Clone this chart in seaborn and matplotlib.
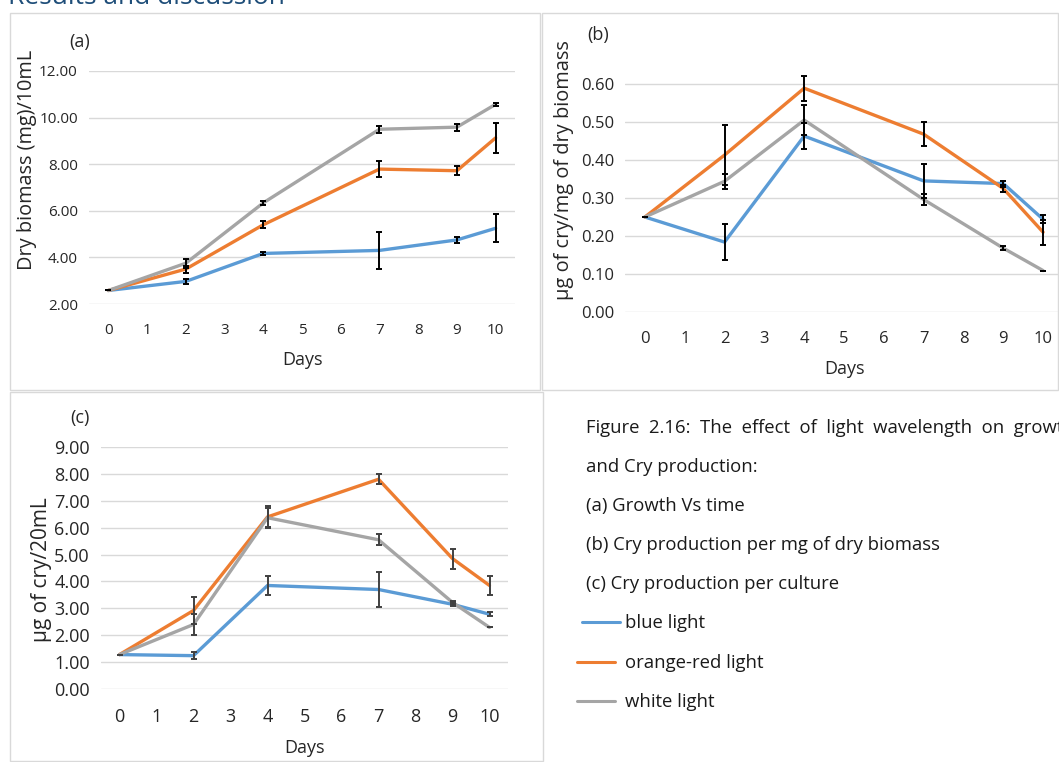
import matplotlib
matplotlib.use("Agg")
import matplotlib.pyplot as plt
import matplotlib.patches as patches
import seaborn as sns
import pandas as pd

sns.set_style("white")
plt.rcParams['font.family'] = ['Open Sans', 'DejaVu Sans']

# data
days = [0, 2, 4, 7, 9, 10]
series_names = ["blue light", "orange-red light", "white light"]
colors = ["#5B9BD5", "#ED7D31", "#A5A5A5"]

# (a) dry biomass (mg)/10mL
biomass_blue = [2.58, 2.97, 4.17, 4.30, 4.75, 5.25]
biomass_orange = [2.58, 3.50, 5.40, 7.79, 7.72, 9.13]
biomass_white = [2.58, 3.75, 6.34, 9.50, 9.59, 10.57]
biomass_err_blue = [0.0, 0.10, 0.08, 0.78, 0.12, 0.60]
biomass_err_orange = [0.0, 0.15, 0.15, 0.34, 0.20, 0.63]
biomass_err_white = [0.0, 0.20, 0.10, 0.15, 0.15, 0.06]

# (b) ug cry / mg dry biomass
cry_mg_blue = [0.25, 0.184, 0.463, 0.345, 0.338, 0.244]
cry_mg_orange = [0.25, 0.413, 0.589, 0.468, 0.325, 0.210]
cry_mg_white = [0.25, 0.344, 0.505, 0.296, 0.168, 0.109]
cry_mg_err_blue = [0.0, 0.048, 0.035, 0.045, 0.008, 0.010]
cry_mg_err_orange = [0.0, 0.080, 0.033, 0.032, 0.010, 0.033]
cry_mg_err_white = [0.0, 0.020, 0.040, 0.015, 0.005, 0.0]

# (c) ug cry / 20mL
cry_ml_blue = [1.28, 1.24, 3.85, 3.70, 3.15, 2.78]
cry_ml_orange = [1.28, 2.92, 6.40, 7.80, 4.85, 3.85]
cry_ml_white = [1.28, 2.40, 6.37, 5.55, 3.22, 2.29]
cry_ml_err_blue = [0.0, 0.12, 0.37, 0.64, 0.07, 0.08]
cry_ml_err_orange = [0.0, 0.50, 0.40, 0.18, 0.37, 0.37]
cry_ml_err_white = [0.0, 0.40, 0.35, 0.20, 0.05, 0.0]

caption_lines = [
    "Figure  2.16:  The  effect  of  light  wavelength  on  growth",
    "and Cry production:",
    "(a) Growth Vs time",
    "(b) Cry production per mg of dry biomass",
    "(c) Cry production per culture",
]

W, H = 1059, 762
fig = plt.figure(figsize=(W / 100, H / 100), dpi=100)


def px_rect(x0, y0, x1, y1):
    # pixel box (from top-left) -> figure fraction [left, bottom, width, height]
    return [x0 / W, 1 - y1 / H, (x1 - x0) / W, (y1 - y0) / H]


# panel frames
for (x0, y0, x1, y1) in [(10, 13, 540, 390), (542, 13, 1058, 390), (10, 392, 543, 761)]:
    l, b, w, h = px_rect(x0, y0, x1, y1)
    fig.patches.append(patches.Rectangle((l, b), w, h, transform=fig.transFigure,
                                         fill=False, edgecolor="#D9D9D9", linewidth=1))

fig.text(8 / W, 1 - 4 / H, "Results and discussion", color="#1F4E79",
         fontsize=19, va="baseline", ha="left")


def draw_panel(rect, values, errors, ylim, yticks, ylabel, ylabel_fs, ylabel_xy,
               tag, tag_xy, tick_fs, err_color):
    ax = fig.add_axes(rect)
    frames = []
    for name, vals in zip(series_names, values):
        frames.append(pd.DataFrame({"day": days, "value": vals, "series": name}))
    df = pd.concat(frames)
    sns.lineplot(data=df, x="day", y="value", hue="series", palette=colors,
                 linewidth=2.4, ax=ax, legend=False, zorder=3)
    for vals, errs in zip(values, errors):
        ax.errorbar(days, vals, yerr=errs, fmt="none", ecolor=err_color,
                    elinewidth=1.4, capsize=2.5, capthick=1.4, zorder=4)
    ax.set_xlim(-0.5, 10.5)
    ax.set_ylim(*ylim)
    ax.set_xticks(range(11))
    ax.set_yticks(yticks)
    ax.set_yticklabels(["{:.2f}".format(v) for v in yticks])
    ax.grid(axis="y", color="#D9D9D9", linewidth=1)
    ax.set_axisbelow(True)
    for s in ax.spines.values():
        s.set_visible(False)
    ax.tick_params(axis="both", length=0, labelsize=tick_fs, colors="#262626")
    ax.tick_params(axis="x", pad=14)
    ax.tick_params(axis="y", pad=8)
    ax.set_xlabel("Days", fontsize=13, color="#262626", labelpad=9)
    ax.set_ylabel(ylabel, fontsize=ylabel_fs, color="#262626")
    ax.yaxis.set_label_coords(*ylabel_xy)
    fig.text(tag_xy[0] / W, 1 - tag_xy[1] / H, tag, fontsize=13, color="#262626",
             ha="center", va="center")
    return ax


draw_panel(px_rect(89, 71, 515, 304),
           [biomass_blue, biomass_orange, biomass_white],
           [biomass_err_blue, biomass_err_orange, biomass_err_white],
           (2, 12), [2, 4, 6, 8, 10, 12],
           "Dry biomass (mg)/10mL", 14.3, (-0.122, 0.62), "(a)", (80, 42), 11, "black")

draw_panel(px_rect(625, 65, 1063, 312),
           [cry_mg_blue, cry_mg_orange, cry_mg_white],
           [cry_mg_err_blue, cry_mg_err_orange, cry_mg_err_white],
           (0, 0.65), [0, 0.1, 0.2, 0.3, 0.4, 0.5, 0.6],
           "µg of cry/mg of dry biomass", 14.4, (-0.116, 0.575), "(b)", (598, 35), 12, "black")

draw_panel(px_rect(101, 447, 508, 689),
           [cry_ml_blue, cry_ml_orange, cry_ml_white],
           [cry_ml_err_blue, cry_ml_err_orange, cry_ml_err_white],
           (0, 9), list(range(10)),
           "µg of cry/20mL", 15, (-0.12, 0.492), "(c)", (80, 418), 13, "#404040")

# caption and legend
cap_y = [428, 467, 506, 545, 584]
for y, line in zip(cap_y, caption_lines):
    fig.text(586 / W, 1 - y / H, line, fontsize=13.3, color="#1a1a1a", va="center", ha="left")

leg_y = [623, 663, 702]
leg_x0 = [582, 577, 577]
for y, x0, name, c in zip(leg_y, leg_x0, series_names, colors):
    fig.lines.append(plt.Line2D([x0 / W, (x0 + 38) / W], [1 - (y - 1) / H, 1 - (y - 1) / H],
                                transform=fig.transFigure, color=c, linewidth=2.2))
    fig.text(625 / W, 1 - y / H, name, fontsize=13.3, color="#1a1a1a", va="center", ha="left")

fig.savefig("out.png", dpi=100)
